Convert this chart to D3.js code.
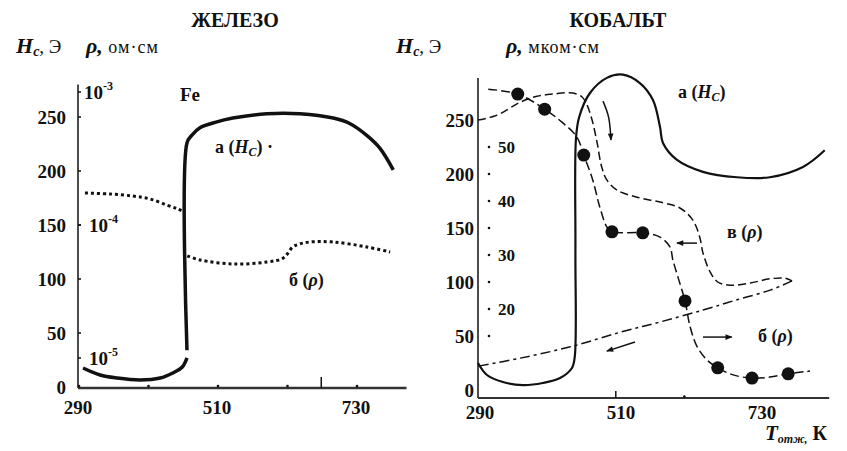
<!DOCTYPE html>
<html>
<head>
<meta charset="utf-8">
<script src="https://cdn.jsdelivr.net/npm/d3@7"></script>
<style>
  body { margin: 0; background: #fff; }
</style>
</head>
<body>
<div id="chart"></div>
<script>
// axis ticks
var tempTicks = [290, 510, 730]
var tempMinor = [290, 400, 510, 620, 730]
var hcTicks = [0, 50, 100, 150, 200, 250]
var rhoFeTicks = [1e-3, 1e-4, 1e-5]
var rhoCoTicks = [20, 30, 40, 50]
var rhoCoMinor = [15, 20, 25, 30, 35, 40, 45, 50]

// iron: coercive force (Э) and resistivity (ом·см)
var feHcLowT = [298, 325, 352, 388, 420, 440, 455, 462.5]
var feHcLow = [17.6, 11.1, 8.3, 6.5, 8.3, 13, 18.5, 27]
var feHcHighT = [462.5, 462.5, 470, 483, 507, 535, 589, 641, 694, 720, 747, 768, 789]
var feHcHigh = [34, 226, 233, 240, 245, 249, 253, 253, 249, 244, 233, 221, 201]
var feRhoLowT = [301, 341, 377, 404, 431, 448, 459]
var feRhoLow = [1.74e-4, 1.71e-4, 1.65e-4, 1.57e-4, 1.41e-4, 1.32e-4, 1.25e-4]
var feRhoHighT = [463, 483, 535, 589, 615, 630, 641, 657, 694, 747, 784]
var feRhoHigh = [5.85e-5, 5.46e-5, 5.09e-5, 5.27e-5, 5.65e-5, 6.84e-5, 7.2e-5, 7.45e-5, 7.45e-5, 6.84e-5, 6.27e-5]

// cobalt: coercive force (Э) and resistivity (мком·см)
var coHcT = [290, 304, 329, 360, 391, 418, 436.6, 441, 442, 443, 448, 464.7, 491, 516, 543, 563, 574, 578.6, 600.5, 641, 694, 745.5, 797, 831]
var coHc = [25, 13.9, 7.4, 4.6, 6.5, 11.1, 20.4, 31, 130, 234, 253, 275, 289, 292, 284, 268.5, 243.5, 228.7, 213, 202, 197, 197, 206.5, 222]
var coRhoHeatT = [306, 352, 394, 421, 444, 455, 469, 480, 491, 499, 547, 574, 589.5, 594, 602, 613, 621, 632, 647, 664, 688, 717.5, 745.5, 774, 808]
var coRhoHeat = [60.7, 59.8, 57.0, 54.6, 51.9, 48.5, 43.9, 38.9, 35.2, 34.3, 34.1, 33.3, 31.5, 29.1, 25.9, 21.5, 16.7, 13.0, 10.6, 9.1, 7.8, 7.2, 7.4, 8.0, 8.5]
var coRhoMarkT = [352, 394, 455, 499, 547, 613, 664, 717.5, 774]
var coRhoMark = [59.8, 57.0, 48.5, 34.3, 34.1, 21.5, 9.1, 7.2, 8.0]
var coRhoCoolT = [290, 320, 356, 382, 407, 438, 452, 460, 468, 476, 483, 491, 507, 538, 574, 605, 625, 636, 641, 652, 664, 683, 714, 746, 769, 780]
var coRhoCool = [55.0, 55.9, 58.3, 59.4, 59.8, 60.0, 59.3, 57.8, 55.0, 50.7, 46.3, 43.9, 42.0, 40.7, 39.8, 38.7, 36.5, 33.3, 30.4, 26.9, 25.0, 24.4, 24.8, 25.6, 25.7, 25.2]
var coRhoBackT = [780, 746, 694, 641, 574, 512, 434, 356, 290]
var coRhoBack = [25.2, 23.5, 21.7, 19.8, 17.6, 15.7, 13.0, 10.9, 9.4]

var zip = (xs, ys) => xs.map((x, i) => [x, ys[i]])

var W = 847, H = 451
var serif = "'Liberation Serif', 'Times New Roman', serif"

var svg = d3.select("#chart").append("svg")
    .attr("width", W).attr("height", H)
    .style("background", "#fff")

svg.append("defs").append("marker")
    .attr("id", "head")
    .attr("viewBox", "0 0 10 10")
    .attr("refX", 9).attr("refY", 5)
    .attr("markerWidth", 9).attr("markerHeight", 7)
    .attr("markerUnits", "userSpaceOnUse")
    .attr("orient", "auto")
    .append("path").attr("d", "M0,1 L10,5 L0,9 Z").attr("fill", "#111")

// text with tspans (sub/superscripts)
function rich(x, y, parts, anchor) {
    var t = svg.append("text").attr("x", x).attr("y", y)
        .attr("font-family", serif).attr("fill", "#111")
        .attr("text-anchor", anchor || "start")
    var shift = 0
    parts.forEach(p => {
        var dy = p.dy || 0
        t.append("tspan").text(p.t)
            .attr("font-size", p.s || 18)
            .attr("font-weight", p.w || "bold")
            .attr("font-style", p.i ? "italic" : "normal")
            .attr("letter-spacing", p.ls || 0)
            .attr("dy", dy - shift)
        shift = dy
    })
    return t
}

// ---------------- left panel: ЖЕЛЕЗО ----------------
var xL = d3.scaleLinear().domain([290, 730]).range([78, 356])
var yL = d3.scaleLinear().domain([0, 250]).range([387, 117])
var rhoL = d3.scaleLog().domain([1e-5, 1e-3]).range([358, 92])

var gL = svg.append("g")
gL.append("line").attr("x1", xL(290)).attr("x2", xL(290))
    .attr("y1", yL(280)).attr("y2", yL(-1)).attr("stroke", "#111").attr("stroke-width", 1.5)
gL.append("line").attr("x1", xL(290)).attr("x2", xL(810))
    .attr("y1", yL(-1)).attr("y2", yL(-1)).attr("stroke", "#333").attr("stroke-width", 2.5)

gL.selectAll(".ty").data(hcTicks).enter().append("text")
    .attr("x", 66).attr("y", d => yL(d) + 7)
    .attr("text-anchor", "end").attr("font-family", serif)
    .attr("font-weight", "bold").attr("font-size", 19).attr("fill", "#111")
    .text(d => d)
gL.selectAll(".tyk").data(hcTicks.slice(1)).enter().append("line")
    .attr("x1", xL(290)).attr("x2", xL(290) + 3)
    .attr("y1", d => yL(d)).attr("y2", d => yL(d)).attr("stroke", "#111").attr("stroke-width", 1.5)
gL.selectAll(".tx").data(tempTicks).enter().append("text")
    .attr("x", d => xL(d)).attr("y", 414)
    .attr("text-anchor", "middle").attr("font-family", serif)
    .attr("font-weight", "bold").attr("font-size", 19).attr("fill", "#111")
    .text(d => d)
gL.selectAll(".txk").data(tempMinor).enter().append("circle")
    .attr("cx", d => xL(d) + 1).attr("cy", yL(-1) - 2).attr("r", 1.3).attr("fill", "#111")
gL.append("line").attr("x1", xL(675)).attr("x2", xL(675))
    .attr("y1", yL(-1)).attr("y2", yL(-1) - 11).attr("stroke", "#111").attr("stroke-width", 1.5)

rhoFeTicks.forEach((v, i) => {
    var e = Math.round(Math.log10(v))
    rich(i == 0 ? 84 : 89, rhoL(v) + 7, [{ t: "10", s: 19 }, { t: "" + e, s: 12, dy: -9 }])
    gL.append("line").attr("x1", xL(290)).attr("x2", xL(290) + 3)
        .attr("y1", rhoL(v)).attr("y2", rhoL(v)).attr("stroke", "#111").attr("stroke-width", 1.5)
})

var lineL = d3.line().x(d => xL(d[0])).y(d => yL(d[1])).curve(d3.curveCatmullRom.alpha(0.5))
var lineLr = d3.line().x(d => xL(d[0])).y(d => rhoL(d[1])).curve(d3.curveCatmullRom.alpha(0.5))

gL.append("path").attr("d", lineL(zip(feHcLowT, feHcLow)))
    .attr("fill", "none").attr("stroke", "#111").attr("stroke-width", 3.5)
gL.append("path").attr("d", lineL(zip(feHcHighT, feHcHigh)))
    .attr("fill", "none").attr("stroke", "#111").attr("stroke-width", 3.5)
;[zip(feRhoLowT, feRhoLow), zip(feRhoHighT, feRhoHigh)].forEach(s => {
    gL.append("path").attr("d", lineLr(s))
        .attr("fill", "none").attr("stroke", "#111").attr("stroke-width", 3)
        .attr("stroke-dasharray", "3,3")
})

// ---------------- right panel: КОБАЛЬТ ----------------
var xR = d3.scaleLinear().domain([290, 730]).range([478, 760])
var yR = d3.scaleLinear().domain([0, 250]).range([390, 120])
var rhoR = d3.scaleLinear().domain([20, 50]).range([309, 147])

var gR = svg.append("g")
gR.append("line").attr("x1", xR(290)).attr("x2", xR(290))
    .attr("y1", yR(289)).attr("y2", yR(-7.4)).attr("stroke", "#111").attr("stroke-width", 1.5)
gR.append("line").attr("x1", xR(290)).attr("x2", xR(838))
    .attr("y1", yR(-7.4)).attr("y2", yR(-7.4)).attr("stroke", "#333").attr("stroke-width", 2)

gR.selectAll(".ty").data(hcTicks).enter().append("text")
    .attr("x", 474).attr("y", d => yR(d) + 7)
    .attr("text-anchor", "end").attr("font-family", serif)
    .attr("font-weight", "bold").attr("font-size", 19).attr("fill", "#111")
    .text(d => d)
gR.selectAll(".tx").data(tempTicks).enter().append("text")
    .attr("x", d => xR(d) + 2).attr("y", 419)
    .attr("text-anchor", "middle").attr("font-family", serif)
    .attr("font-weight", "bold").attr("font-size", 19).attr("fill", "#111")
    .text(d => d)
gR.append("line").attr("x1", xR(505)).attr("x2", xR(505))
    .attr("y1", yR(-7.4)).attr("y2", yR(-7.4) - 7).attr("stroke", "#111").attr("stroke-width", 1.5)
gR.append("circle").attr("cx", xR(612)).attr("cy", yR(-7.4) - 1.5).attr("r", 1.3).attr("fill", "#111")

gR.selectAll(".rd").data(rhoCoMinor).enter().append("circle")
    .attr("cx", 489).attr("cy", d => rhoR(d)).attr("r", 1.3).attr("fill", "#111")
gR.selectAll(".rl").data(rhoCoTicks).enter().append("text")
    .attr("x", 498).attr("y", d => rhoR(d) + 6)
    .attr("font-family", serif).attr("font-weight", "bold").attr("font-size", 17).attr("fill", "#111")
    .text(d => d)

var lineR = d3.line().x(d => xR(d[0])).y(d => yR(d[1])).curve(d3.curveCatmullRom.alpha(0.5))
var lineRr = d3.line().x(d => xR(d[0])).y(d => rhoR(d[1])).curve(d3.curveCatmullRom.alpha(0.5))

gR.append("path").attr("d", lineR(zip(coHcT, coHc)))
    .attr("fill", "none").attr("stroke", "#111").attr("stroke-width", 2.2)
gR.append("path").attr("d", lineRr(zip(coRhoCoolT, coRhoCool)))
    .attr("fill", "none").attr("stroke", "#111").attr("stroke-width", 1.5)
    .attr("stroke-dasharray", "8,4")
gR.append("path").attr("d", lineRr(zip(coRhoBackT, coRhoBack)))
    .attr("fill", "none").attr("stroke", "#111").attr("stroke-width", 1.5)
    .attr("stroke-dasharray", "10,4,3,4")
gR.append("path").attr("d", lineRr(zip(coRhoHeatT, coRhoHeat)))
    .attr("fill", "none").attr("stroke", "#111").attr("stroke-width", 1.5)
    .attr("stroke-dasharray", "9,4")
gR.selectAll(".mk").data(zip(coRhoMarkT, coRhoMark)).enter().append("circle")
    .attr("cx", d => xR(d[0])).attr("cy", d => rhoR(d[1])).attr("r", 6.5)
    .attr("fill", "#111")

// direction arrows (temperature, ρ)
var arrows = [
    [[485, 58.5], [494, 55.4], [497.5, 51.3]],
    [[631.6, 32.2], [600.4, 32.2]],
    [[641, 14.8], [686, 14.8]],
    [[535, 13.9], [491, 12.2]]
]
arrows.forEach(a => {
    gR.append("path").attr("d", d3.line().x(d => xR(d[0])).y(d => rhoR(d[1])).curve(d3.curveNatural)(a))
        .attr("fill", "none").attr("stroke", "#111").attr("stroke-width", 1.5)
        .attr("marker-end", "url(#head)")
})

// ---------------- titles and labels ----------------
rich(235, 27, [{ t: "ЖЕЛЕЗО", s: 20 }], "middle")
rich(618, 27, [{ t: "КОБАЛЬТ", s: 20 }], "middle")

rich(16, 53, [{ t: "H", s: 22, i: 1 }, { t: "c", s: 14, i: 1, dy: 3 }, { t: ", Э", s: 19, w: "normal" }])
rich(86, 53, [{ t: "ρ,", s: 22, i: 1 }, { t: " ом·см", s: 18, w: "normal", ls: 1 }])
rich(396, 53, [{ t: "H", s: 22, i: 1 }, { t: "c", s: 14, i: 1, dy: 3 }, { t: ", Э", s: 19, w: "normal" }])
rich(506, 53, [{ t: "ρ,", s: 22, i: 1 }, { t: " мком·см", s: 18, w: "normal", ls: 1 }])

rich(180, 101, [{ t: "Fe", s: 19 }])
rich(215, 153, [{ t: "а (", s: 18 }, { t: "H", s: 18, i: 1 }, { t: "C", s: 12, i: 1, dy: 3 }, { t: ")", s: 18 }, { t: " ·", s: 18 }])
rich(289, 286, [{ t: "б (", s: 18 }, { t: "ρ", s: 18, i: 1 }, { t: ")", s: 18 }])

rich(678, 98, [{ t: "а (", s: 18 }, { t: "H", s: 18, i: 1 }, { t: "C", s: 12, i: 1, dy: 3 }, { t: ")", s: 18 }])
rich(727, 238, [{ t: "в (", s: 18 }, { t: "ρ", s: 18, i: 1 }, { t: ")", s: 18 }])
rich(758, 342, [{ t: "б (", s: 18 }, { t: "ρ", s: 18, i: 1 }, { t: ")", s: 18 }])
rich(765, 440, [{ t: "T", s: 21, i: 1 }, { t: "отж,", s: 12, i: 1, dy: 3 }, { t: " К", s: 20 }])
</script>
</body>
</html>
